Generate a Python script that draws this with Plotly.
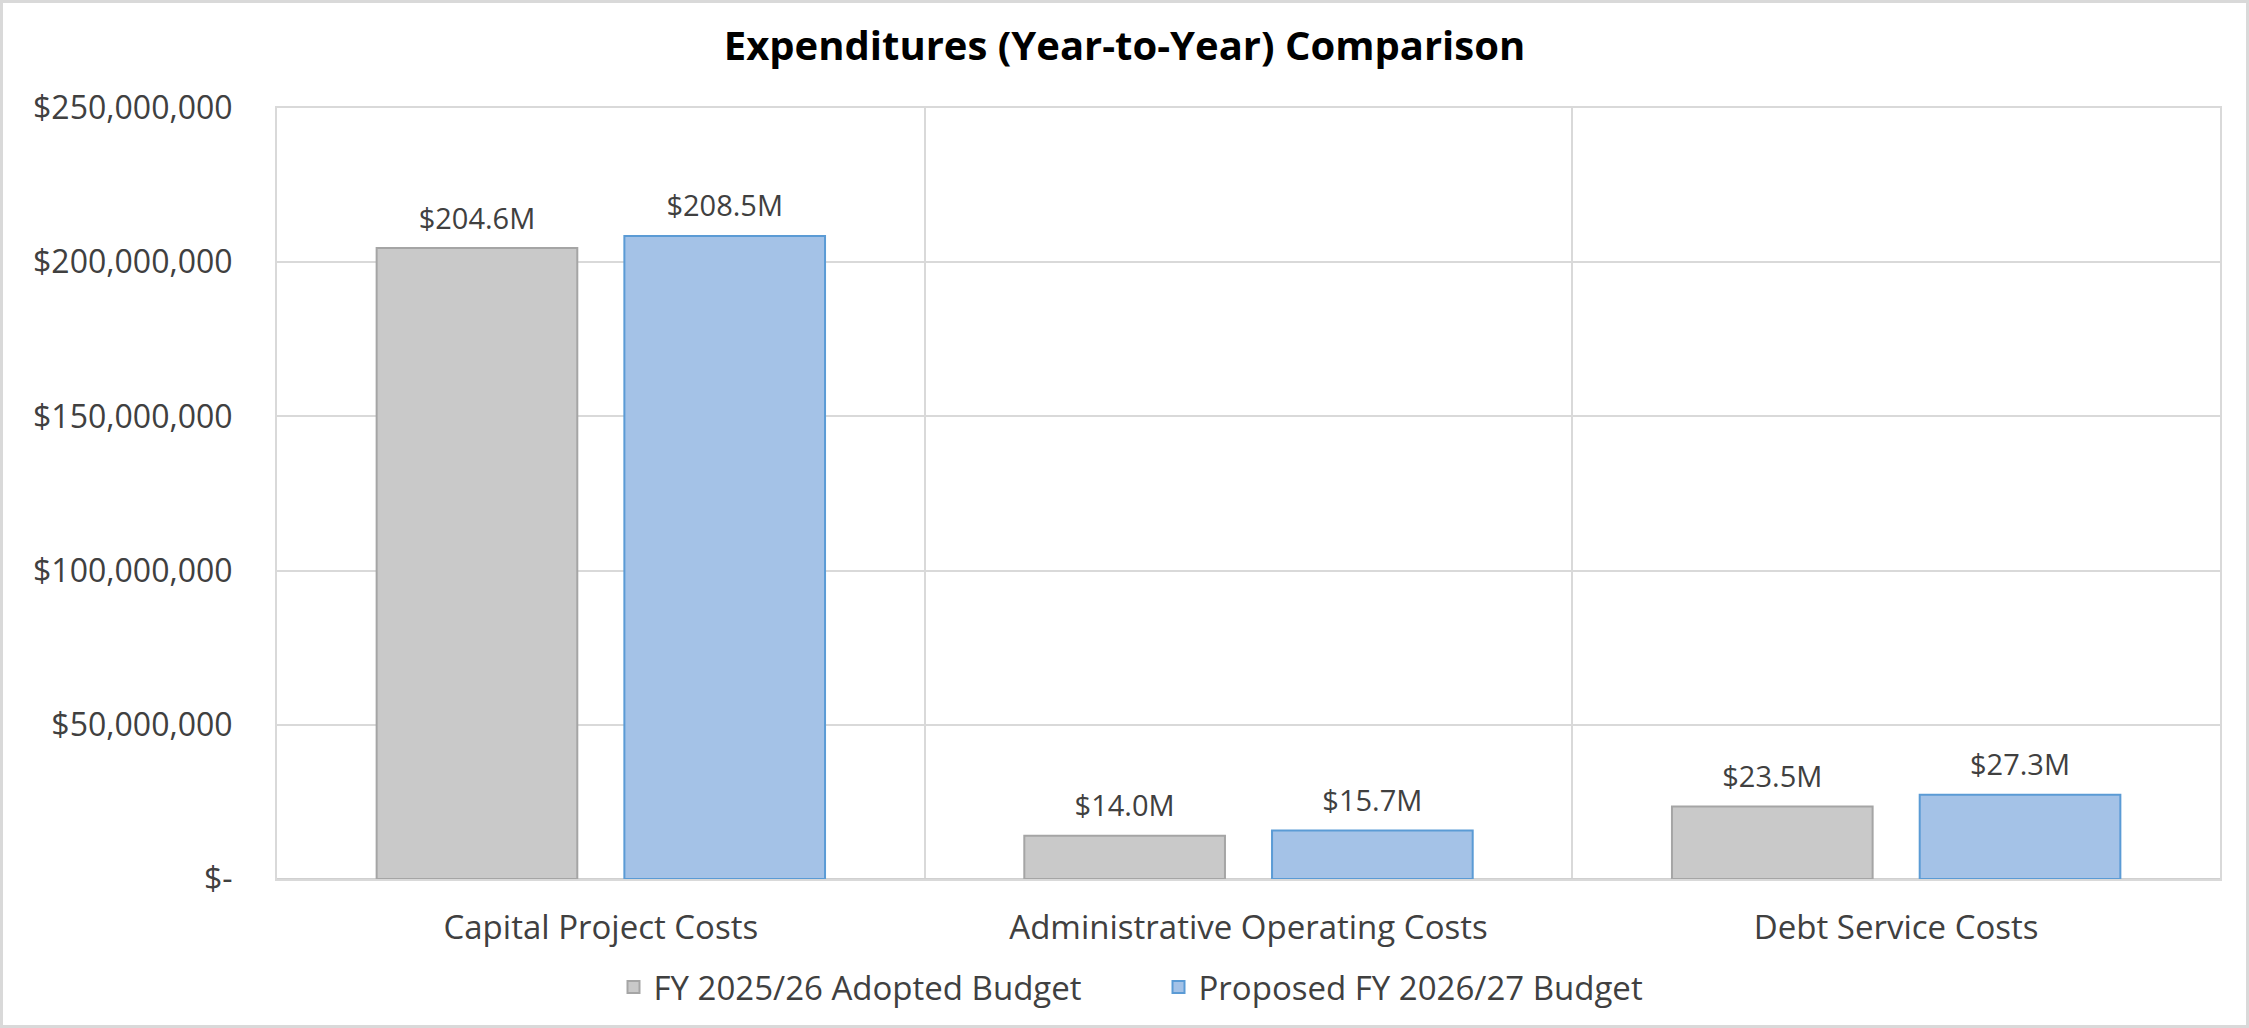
import plotly.graph_objects as go

categories = ["Capital Project Costs", "Administrative Operating Costs", "Debt Service Costs"]
series_names = ["FY 2025/26 Adopted Budget", "Proposed FY 2026/27 Budget"]
adopted_2025 = [204.6e6, 14.0e6, 23.5e6]
proposed_2026 = [208.5e6, 15.7e6, 27.3e6]
y_tick_values = [0, 50e6, 100e6, 150e6, 200e6, 250e6]
y_tick_labels = ["$-", "$50,000,000", "$100,000,000", "$150,000,000", "$200,000,000", "$250,000,000"]

W, H = 2249, 1028
ML, MR, MT, MB = 277, 29, 108, 149
FONT = "Open Sans"
TXT = "#404040"
BARGAP = 0.235

def fmt(v):
    return f"${v/1e6:.1f}M"

fig = go.Figure()
styles = [("#c9c9c9", "#a5a5a5"), ("#a4c2e7", "#5b9bd5")]
for name, vals, (fill, edge) in zip(series_names, [adopted_2025, proposed_2026], styles):
    fig.add_trace(go.Bar(
        name=name, x=categories, y=vals, offsetgroup=name,
        marker=dict(color=fill, line=dict(color=edge, width=2)),
        hoverinfo="skip",
    ))
for name, vals in zip(series_names, [adopted_2025, proposed_2026]):
    fig.add_trace(go.Scatter(
        x=categories, y=vals, offsetgroup=name, mode="markers+text",
        text=[fmt(v) for v in vals], textposition="top center",
        marker=dict(size=18, opacity=0),
        textfont=dict(size=29, color=TXT, family=FONT),
        showlegend=False, hoverinfo="skip", cliponaxis=False,
    ))

pw = W - ML - MR
ph = H - MT - MB
fig.add_shape(type="rect", xref="paper", yref="paper",
              x0=-(ML - 1.5) / pw, x1=1 + (MR - 1.5) / pw,
              y0=-(MB - 1.5) / ph, y1=1 + (MT - 1.5) / ph,
              line=dict(color="#d9d9d9", width=3), layer="below")

fig.update_layout(
    width=W, height=H,
    margin=dict(l=ML, r=MR, t=MT, b=MB),
    paper_bgcolor="white", plot_bgcolor="white",
    font=dict(family=FONT, size=32, color=TXT),
    title=dict(text="<b>Expenditures (Year-to-Year) Comparison</b>",
               x=0.5, xanchor="center", xref="container", y=1 - 46 / H, yanchor="middle",
               font=dict(size=40, color="#000000", family=FONT)),
    barmode="group", bargap=BARGAP, bargroupgap=0.19,
    scattermode="group", scattergap=BARGAP,
    showlegend=True,
    legend=dict(orientation="h", x=0.5 - 90 / pw, xanchor="center", y=-(987 - (H - MB)) / ph, yanchor="middle",
                font=dict(size=33, color=TXT, family=FONT), itemwidth=30, entrywidth=500),
)
fig.update_xaxes(
    type="category", tickson="boundaries", showgrid=True, gridcolor="#d9d9d9", gridwidth=2,
    showline=True, linecolor="#d9d9d9", linewidth=2, mirror=True, ticks="",
    tickfont=dict(size=33, color=TXT, family=FONT), ticklabelstandoff=18,
)
fig.update_yaxes(
    range=[0, 250e6], tickvals=y_tick_values, ticktext=y_tick_labels,
    showgrid=True, gridcolor="#d9d9d9", gridwidth=2, zeroline=True, zerolinecolor="#d0d0d0", zerolinewidth=3,
    showline=True, linecolor="#d9d9d9", linewidth=2, mirror=True, ticks="",
    tickfont=dict(size=32, color=TXT, family=FONT), ticklabelstandoff=36,
)

fig.write_html("out.html", post_script="document.body.style.margin='0';",
               config={"displayModeBar": False})
